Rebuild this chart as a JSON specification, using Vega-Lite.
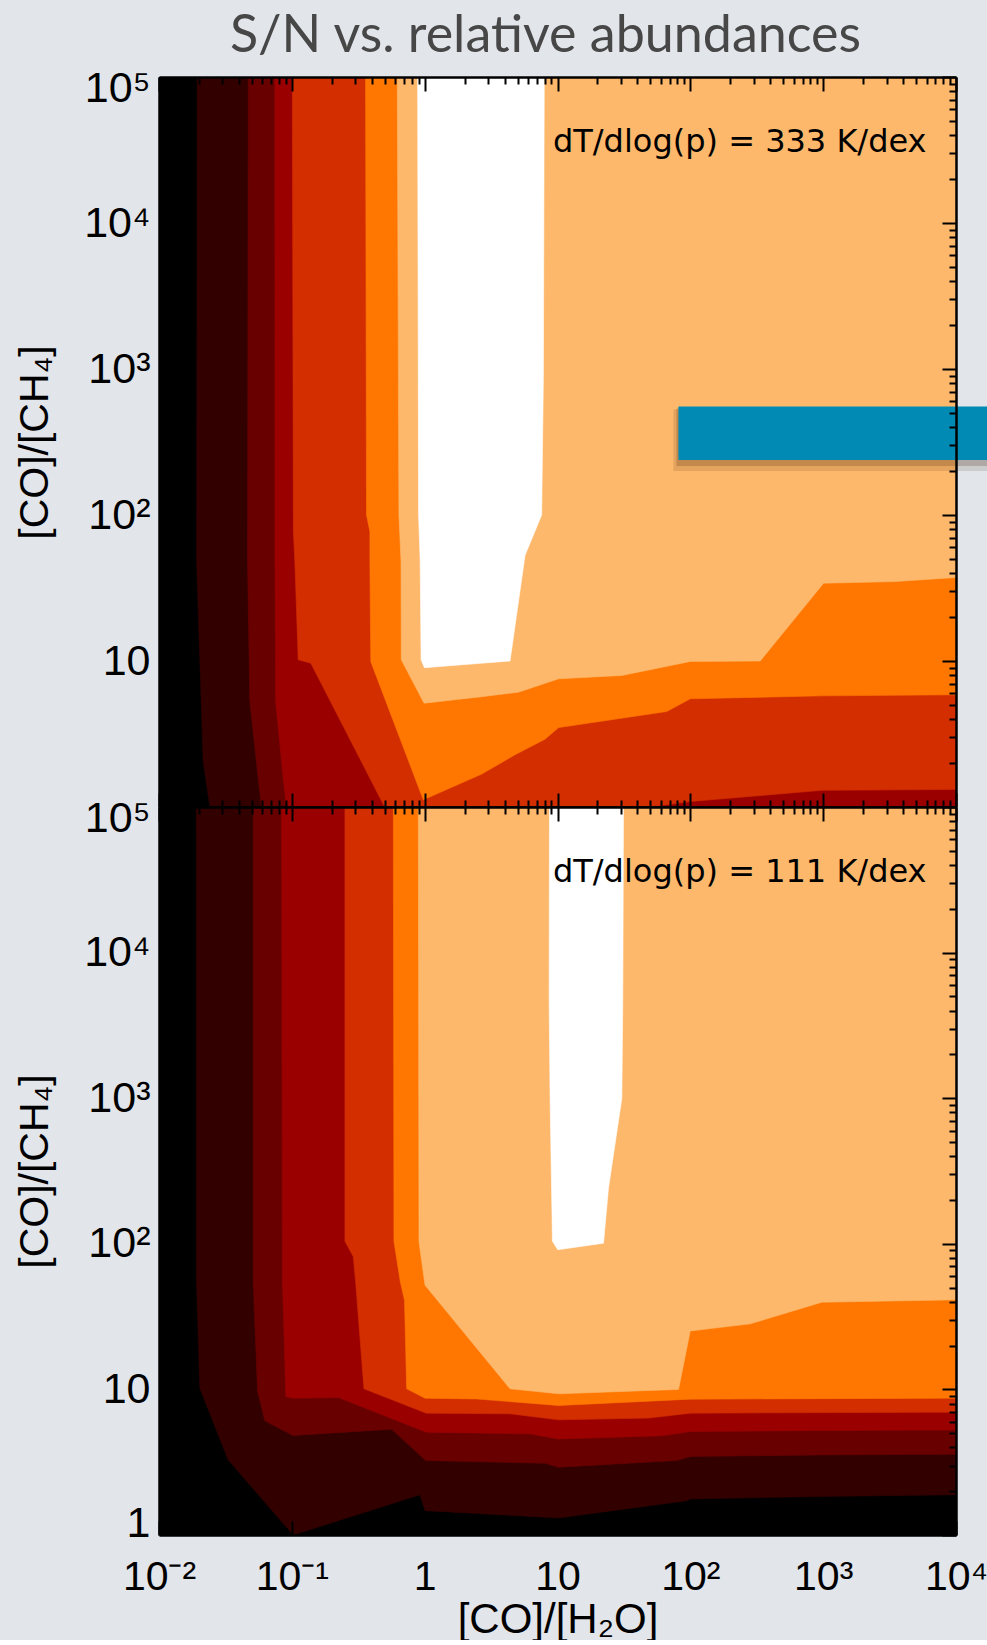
{
  "$schema": "https://vega.github.io/schema/vega-lite/v6.json",
  "background": "#e2e5ea",
  "padding": {"left": 14, "top": 10, "right": 0, "bottom": 0},
  "title": {
    "text": "S/N vs. relative abundances",
    "font": "Lato",
    "fontSize": 52,
    "fontWeight": "normal",
    "color": "#474747",
    "anchor": "middle",
    "frame": "group",
    "dx": -12,
    "offset": 4
  },
  "datasets": {
    "bands": [
      {"p":"t","lv":1,"i":1,"x":0.0194,"lo":100000},{"p":"t","lv":1,"i":2,"x":0.0192,"lo":48},{"p":"t","lv":1,"i":3,"x":0.0215,"lo":2.05},{"p":"t","lv":1,"i":4,"x":0.0242,"lo":1},{"p":"t","lv":1,"i":5,"x":10000,"lo":1},
      {"p":"t","lv":2,"i":1,"x":0.047,"lo":100000},{"p":"t","lv":2,"i":2,"x":0.0464,"lo":48},{"p":"t","lv":2,"i":3,"x":0.0483,"lo":5.3},{"p":"t","lv":2,"i":4,"x":0.0558,"lo":1.57},{"p":"t","lv":2,"i":5,"x":0.0591,"lo":1},{"p":"t","lv":2,"i":6,"x":10000,"lo":1},
      {"p":"t","lv":3,"i":1,"x":0.0745,"lo":100000},{"p":"t","lv":3,"i":2,"x":0.0747,"lo":48},{"p":"t","lv":3,"i":3,"x":0.0756,"lo":5.3},{"p":"t","lv":3,"i":4,"x":0.0861,"lo":1.57},{"p":"t","lv":3,"i":5,"x":0.0912,"lo":1},{"p":"t","lv":3,"i":6,"x":10000,"lo":1},
      {"p":"t","lv":4,"i":1,"x":0.1008,"lo":100000},{"p":"t","lv":4,"i":2,"x":0.1027,"lo":77},{"p":"t","lv":4,"i":3,"x":0.1054,"lo":48},{"p":"t","lv":4,"i":4,"x":0.1117,"lo":10.2},{"p":"t","lv":4,"i":5,"x":0.139,"lo":9.67},{"p":"t","lv":4,"i":6,"x":0.5,"lo":1},{"p":"t","lv":4,"i":7,"x":50,"lo":1},{"p":"t","lv":4,"i":8,"x":100,"lo":1.09},{"p":"t","lv":4,"i":9,"x":977,"lo":1.3},{"p":"t","lv":4,"i":10,"x":10000,"lo":1.32},
      {"p":"t","lv":5,"i":1,"x":0.359,"lo":100000},{"p":"t","lv":5,"i":2,"x":0.365,"lo":100},{"p":"t","lv":5,"i":3,"x":0.387,"lo":77},{"p":"t","lv":5,"i":4,"x":0.387,"lo":48},{"p":"t","lv":5,"i":5,"x":0.393,"lo":9.9},{"p":"t","lv":5,"i":6,"x":0.977,"lo":1.12},{"p":"t","lv":5,"i":7,"x":2.69,"lo":1.68},{"p":"t","lv":5,"i":8,"x":4.79,"lo":2.28},{"p":"t","lv":5,"i":9,"x":8.05,"lo":2.91},{"p":"t","lv":5,"i":10,"x":10.2,"lo":3.5},{"p":"t","lv":5,"i":11,"x":66.5,"lo":4.51},{"p":"t","lv":5,"i":12,"x":100,"lo":5.51},{"p":"t","lv":5,"i":13,"x":977,"lo":5.77},{"p":"t","lv":5,"i":14,"x":10000,"lo":5.87},
      {"p":"t","lv":6,"i":1,"x":0.622,"lo":100000},{"p":"t","lv":6,"i":2,"x":0.64,"lo":100},{"p":"t","lv":6,"i":3,"x":0.664,"lo":48},{"p":"t","lv":6,"i":4,"x":0.667,"lo":10.2},{"p":"t","lv":6,"i":5,"x":0.99,"lo":5.14},{"p":"t","lv":6,"i":6,"x":2.69,"lo":5.7},{"p":"t","lv":6,"i":7,"x":5.08,"lo":6.12},{"p":"t","lv":6,"i":8,"x":10.2,"lo":7.55},{"p":"t","lv":6,"i":9,"x":30.5,"lo":7.96},{"p":"t","lv":6,"i":10,"x":100,"lo":9.93},{"p":"t","lv":6,"i":11,"x":336,"lo":10},{"p":"t","lv":6,"i":12,"x":1007,"lo":34.1},{"p":"t","lv":6,"i":13,"x":3490,"lo":35},{"p":"t","lv":6,"i":14,"x":10000,"lo":37.3},
      {"p":"t","lv":7,"i":1,"x":0.885,"lo":100000},{"p":"t","lv":7,"i":2,"x":0.9,"lo":100},{"p":"t","lv":7,"i":3,"x":0.925,"lo":48},{"p":"t","lv":7,"i":4,"x":0.94,"lo":10.2},{"p":"t","lv":7,"i":5,"x":0.996,"lo":9},{"p":"t","lv":7,"i":6,"x":4.39,"lo":10},{"p":"t","lv":7,"i":7,"x":5.7,"lo":53},{"p":"t","lv":7,"i":8,"x":7.6,"lo":100},{"p":"t","lv":7,"i":9,"x":7.83,"lo":890},{"p":"t","lv":7,"i":10,"x":7.95,"lo":100000},
      {"p":"b","lv":1,"i":1,"x":0.0191,"lo":100000},{"p":"b","lv":1,"i":2,"x":0.01916,"lo":55},{"p":"b","lv":1,"i":3,"x":0.0203,"lo":10.2},{"p":"b","lv":1,"i":4,"x":0.0332,"lo":3.28},{"p":"b","lv":1,"i":5,"x":0.1024,"lo":1},{"p":"b","lv":1,"i":6,"x":0.922,"lo":1.89},{"p":"b","lv":1,"i":7,"x":1.006,"lo":1.47},{"p":"b","lv":1,"i":8,"x":10.2,"lo":1.31},{"p":"b","lv":1,"i":9,"x":94,"lo":1.72},{"p":"b","lv":1,"i":10,"x":100,"lo":1.77},{"p":"b","lv":1,"i":11,"x":977,"lo":1.84},{"p":"b","lv":1,"i":12,"x":10000,"lo":1.89},
      {"p":"b","lv":2,"i":1,"x":0.0512,"lo":100000},{"p":"b","lv":2,"i":2,"x":0.0512,"lo":55},{"p":"b","lv":2,"i":3,"x":0.0552,"lo":9.67},{"p":"b","lv":2,"i":4,"x":0.0627,"lo":6.08},{"p":"b","lv":2,"i":5,"x":0.102,"lo":4.82},{"p":"b","lv":2,"i":6,"x":0.564,"lo":5.33},{"p":"b","lv":2,"i":7,"x":1.02,"lo":3.25},{"p":"b","lv":2,"i":8,"x":8.05,"lo":3.11},{"p":"b","lv":2,"i":9,"x":10.2,"lo":2.92},{"p":"b","lv":2,"i":10,"x":79,"lo":3.25},{"p":"b","lv":2,"i":11,"x":100,"lo":3.46},{"p":"b","lv":2,"i":12,"x":977,"lo":3.55},{"p":"b","lv":2,"i":13,"x":10000,"lo":3.59},
      {"p":"b","lv":3,"i":1,"x":0.0837,"lo":100000},{"p":"b","lv":3,"i":2,"x":0.085,"lo":55},{"p":"b","lv":3,"i":3,"x":0.0902,"lo":8.94},{"p":"b","lv":3,"i":4,"x":0.102,"lo":8.71},{"p":"b","lv":3,"i":5,"x":0.224,"lo":8.8},{"p":"b","lv":3,"i":6,"x":1.03,"lo":5.08},{"p":"b","lv":3,"i":7,"x":6.2,"lo":4.95},{"p":"b","lv":3,"i":8,"x":10.2,"lo":4.57},{"p":"b","lv":3,"i":9,"x":61,"lo":4.8},{"p":"b","lv":3,"i":10,"x":100,"lo":5.14},{"p":"b","lv":3,"i":11,"x":977,"lo":5.22},{"p":"b","lv":3,"i":12,"x":10000,"lo":5.27},
      {"p":"b","lv":4,"i":1,"x":0.251,"lo":100000},{"p":"b","lv":4,"i":2,"x":0.251,"lo":104},{"p":"b","lv":4,"i":3,"x":0.29,"lo":81.8},{"p":"b","lv":4,"i":4,"x":0.302,"lo":55},{"p":"b","lv":4,"i":5,"x":0.349,"lo":10.1},{"p":"b","lv":4,"i":6,"x":1.03,"lo":6.87},{"p":"b","lv":4,"i":7,"x":4.39,"lo":6.8},{"p":"b","lv":4,"i":8,"x":10.2,"lo":6.18},{"p":"b","lv":4,"i":9,"x":48.4,"lo":6.35},{"p":"b","lv":4,"i":10,"x":100,"lo":6.87},{"p":"b","lv":4,"i":11,"x":10000,"lo":6.98},
      {"p":"b","lv":5,"i":1,"x":0.581,"lo":100000},{"p":"b","lv":5,"i":2,"x":0.587,"lo":104},{"p":"b","lv":5,"i":3,"x":0.655,"lo":55},{"p":"b","lv":5,"i":4,"x":0.705,"lo":41},{"p":"b","lv":5,"i":5,"x":0.732,"lo":10.1},{"p":"b","lv":5,"i":6,"x":1.006,"lo":8.7},{"p":"b","lv":5,"i":7,"x":2.46,"lo":8.6},{"p":"b","lv":5,"i":8,"x":10.2,"lo":7.75},{"p":"b","lv":5,"i":9,"x":100,"lo":8.57},{"p":"b","lv":5,"i":10,"x":10000,"lo":8.71},
      {"p":"b","lv":6,"i":1,"x":0.896,"lo":100000},{"p":"b","lv":6,"i":2,"x":0.906,"lo":104},{"p":"b","lv":6,"i":3,"x":1.006,"lo":52},{"p":"b","lv":6,"i":4,"x":4.39,"lo":10.1},{"p":"b","lv":6,"i":5,"x":10.2,"lo":9.33},{"p":"b","lv":6,"i":6,"x":81.5,"lo":10},{"p":"b","lv":6,"i":7,"x":99.8,"lo":25.2},{"p":"b","lv":6,"i":8,"x":283,"lo":28.2},{"p":"b","lv":6,"i":9,"x":977,"lo":39.7},{"p":"b","lv":6,"i":10,"x":10000,"lo":41.2},
      {"p":"b","lv":7,"i":1,"x":8.7,"lo":100000},{"p":"b","lv":7,"i":2,"x":8.65,"lo":4600},{"p":"b","lv":7,"i":3,"x":8.8,"lo":950},{"p":"b","lv":7,"i":4,"x":9.16,"lo":104},{"p":"b","lv":7,"i":5,"x":10.05,"lo":91},{"p":"b","lv":7,"i":6,"x":22.2,"lo":101},{"p":"b","lv":7,"i":7,"x":24.2,"lo":241},{"p":"b","lv":7,"i":8,"x":30.5,"lo":1000},{"p":"b","lv":7,"i":9,"x":31,"lo":4600},{"p":"b","lv":7,"i":10,"x":31.4,"lo":100000}
    ],
    "notes": [
      {"p": "t", "note": "dT/dlog(p) = 333 K/dex"},
      {"p": "b", "note": "dT/dlog(p) = 111 K/dex"}
    ]
  },
  "vconcat": [
    {
      "width": 797,
      "height": 730,
      "layer": [
        {"data": {"name": "bands"}, "transform": [{"filter": "datum.p == 't' && datum.lv == 1"}], "mark": {"type": "area", "fill": "#330000", "stroke": "#330000", "strokeWidth": 0.6, "clip": true}, "encoding": {"x": {"field": "x", "type": "quantitative", "scale": {"type": "log", "domain": [0.01, 10000]}, "axis": null}, "y": {"field": "lo", "type": "quantitative", "scale": {"type": "log", "domain": [1, 100000]}, "axis": null}, "y2": {"datum": 100000}, "order": {"value": null}}},
        {"data": {"name": "bands"}, "transform": [{"filter": "datum.p == 't' && datum.lv == 2"}], "mark": {"type": "area", "fill": "#680000", "stroke": "#680000", "strokeWidth": 0.6, "clip": true}, "encoding": {"x": {"field": "x", "type": "quantitative", "axis": null}, "y": {"field": "lo", "type": "quantitative", "axis": null}, "y2": {"datum": 100000}, "order": {"value": null}}},
        {"data": {"name": "bands"}, "transform": [{"filter": "datum.p == 't' && datum.lv == 3"}], "mark": {"type": "area", "fill": "#9b0000", "stroke": "#9b0000", "strokeWidth": 0.6, "clip": true}, "encoding": {"x": {"field": "x", "type": "quantitative", "axis": null}, "y": {"field": "lo", "type": "quantitative", "axis": null}, "y2": {"datum": 100000}, "order": {"value": null}}},
        {"data": {"name": "bands"}, "transform": [{"filter": "datum.p == 't' && datum.lv == 4"}], "mark": {"type": "area", "fill": "#d22e00", "stroke": "#d22e00", "strokeWidth": 0.6, "clip": true}, "encoding": {"x": {"field": "x", "type": "quantitative", "axis": null}, "y": {"field": "lo", "type": "quantitative", "axis": null}, "y2": {"datum": 100000}, "order": {"value": null}}},
        {"data": {"name": "bands"}, "transform": [{"filter": "datum.p == 't' && datum.lv == 5"}], "mark": {"type": "area", "fill": "#ff7700", "stroke": "#ff7700", "strokeWidth": 0.6, "clip": true}, "encoding": {"x": {"field": "x", "type": "quantitative", "axis": null}, "y": {"field": "lo", "type": "quantitative", "axis": null}, "y2": {"datum": 100000}, "order": {"value": null}}},
        {"data": {"name": "bands"}, "transform": [{"filter": "datum.p == 't' && datum.lv == 6"}], "mark": {"type": "area", "fill": "#fdb86c", "stroke": "#fdb86c", "strokeWidth": 0.6, "clip": true}, "encoding": {"x": {"field": "x", "type": "quantitative", "axis": null}, "y": {"field": "lo", "type": "quantitative", "axis": null}, "y2": {"datum": 100000}, "order": {"value": null}}},
        {"data": {"name": "bands"}, "transform": [{"filter": "datum.p == 't' && datum.lv == 7"}], "mark": {"type": "area", "fill": "#ffffff", "stroke": "#ffffff", "strokeWidth": 0.6, "clip": true}, "encoding": {"x": {"field": "x", "type": "quantitative", "axis": null}, "y": {"field": "lo", "type": "quantitative", "axis": null}, "y2": {"datum": 100000}, "order": {"value": null}}},
        {"data": {"name": "notes"}, "transform": [{"filter": "datum.p == 't'"}], "mark": {"type": "text", "align": "right", "baseline": "middle", "font": "DejaVu Sans", "fontSize": 32, "color": "#000000"}, "encoding": {"x": {"datum": 6000, "type": "quantitative", "axis": null}, "y": {"datum": 36000, "type": "quantitative", "axis": null}, "text": {"field": "note"}}},
        {"data": {"values": [{"shape": "marker"}]}, "mark": {"type": "rect", "color": "#3a1a00", "opacity": 0.12, "clip": false, "xOffset": -5, "x2Offset": -5, "yOffset": 3, "y2Offset": 11}, "encoding": {"x": {"datum": 81.3, "type": "quantitative", "axis": null}, "x2": {"datum": 30000}, "y": {"datum": 553, "type": "quantitative", "axis": null}, "y2": {"datum": 238}}},
        {"data": {"values": [{"shape": "marker"}]}, "mark": {"type": "rect", "color": "#3a1a00", "opacity": 0.2, "clip": false, "xOffset": -2, "x2Offset": -2, "yOffset": 2, "y2Offset": 6}, "encoding": {"x": {"datum": 81.3, "type": "quantitative", "axis": null}, "x2": {"datum": 30000}, "y": {"datum": 553, "type": "quantitative", "axis": null}, "y2": {"datum": 238}}},
        {"data": {"values": [{"shape": "marker"}]}, "mark": {"type": "rect", "color": "#018bb4", "clip": false}, "encoding": {"x": {"datum": 81.3, "type": "quantitative", "axis": null}, "x2": {"datum": 30000}, "y": {"datum": 553, "type": "quantitative", "axis": null}, "y2": {"datum": 238}}},
        {"data": {"values": [{}]}, "mark": {"type": "point", "opacity": 0},
         "encoding": {
           "x": {"datum": 1, "type": "quantitative", "axis": {"zindex": 2, "orient": "bottom", "values": [0.01, 10000], "labels": false, "ticks": false, "domain": true, "title": null}},
           "y": {"datum": 10, "type": "quantitative", "axis": {"zindex": 2, "orient": "left", "values": [10, 100, 1000, 10000, 100000], "ticks": false, "domain": true, "labelExpr": "['1','10','10²','10³','10⁴','10⁵'][round(log(datum.value)/LN10)]", "labelFont": "Liberation Sans", "labelFontSize": 43, "labelPadding": 9, "labelOverlap": false, "labelFlush": false, "labelBaseline": "middle", "labelOffset": {"condition": {"test": "datum.value >= 100000", "value": 11}, "value": 0}, "title": "[CO]/[CH₄]", "titleFont": "Liberation Sans", "titleFontSize": 41, "titlePadding": 27}}
         }},
        {"data": {"values": [{}]}, "mark": {"type": "point", "opacity": 0},
         "encoding": {
           "x": {"datum": 1, "type": "quantitative", "axis": {"zindex": 2, "orient": "bottom", "offset": -14, "values": [0.01, 0.1, 1, 10, 100, 1000, 10000], "labels": false, "ticks": true, "tickSize": 14, "domain": false, "title": null}},
           "y": {"datum": 10, "type": "quantitative", "axis": {"zindex": 2, "orient": "right", "values": [1, 100000], "labels": false, "ticks": false, "domain": true, "title": null}}
         }},
        {"data": {"values": [{}]}, "mark": {"type": "point", "opacity": 0},
         "encoding": {
           "x": {"datum": 1, "type": "quantitative", "axis": {"zindex": 2, "orient": "bottom", "offset": -7, "values": [0.02,0.03,0.04,0.05,0.06,0.07,0.08,0.09,0.2,0.3,0.4,0.5,0.6,0.7,0.8,0.9,2,3,4,5,6,7,8,9,20,30,40,50,60,70,80,90,200,300,400,500,600,700,800,900,2000,3000,4000,5000,6000,7000,8000,9000], "labels": false, "ticks": true, "tickSize": 7, "domain": false, "title": null}},
           "y": {"datum": 10, "type": "quantitative", "axis": {"zindex": 2, "orient": "right", "offset": -14, "values": [1, 10, 100, 1000, 10000, 100000], "labels": false, "ticks": true, "tickSize": 14, "domain": false, "title": null}}
         }},
        {"data": {"values": [{}]}, "mark": {"type": "point", "opacity": 0},
         "encoding": {
           "x": {"datum": 1, "type": "quantitative", "axis": {"zindex": 2, "orient": "top", "values": [0.01, 10000], "labels": false, "ticks": false, "domain": true, "title": null}},
           "y": {"datum": 10, "type": "quantitative", "axis": {"zindex": 2, "orient": "right", "offset": -7, "values": [2,3,4,5,6,7,8,9,20,30,40,50,60,70,80,90,200,300,400,500,600,700,800,900,2000,3000,4000,5000,6000,7000,8000,9000,20000,30000,40000,50000,60000,70000,80000,90000], "labels": false, "ticks": true, "tickSize": 7, "domain": false, "title": null}}
         }},
        {"data": {"values": [{}]}, "mark": {"type": "point", "opacity": 0},
         "encoding": {
           "x": {"datum": 1, "type": "quantitative", "axis": {"zindex": 2, "orient": "top", "offset": -14, "values": [0.01, 0.1, 1, 10, 100, 1000, 10000], "labels": false, "ticks": true, "tickSize": 14, "domain": false, "title": null}},
           "y": {"datum": 10, "type": "quantitative", "axis": null}
         }},
        {"data": {"values": [{}]}, "mark": {"type": "point", "opacity": 0},
         "encoding": {
           "x": {"datum": 1, "type": "quantitative", "axis": {"zindex": 2, "orient": "top", "offset": -7, "values": [0.02,0.03,0.04,0.05,0.06,0.07,0.08,0.09,0.2,0.3,0.4,0.5,0.6,0.7,0.8,0.9,2,3,4,5,6,7,8,9,20,30,40,50,60,70,80,90,200,300,400,500,600,700,800,900,2000,3000,4000,5000,6000,7000,8000,9000], "labels": false, "ticks": true, "tickSize": 7, "domain": false, "title": null}},
           "y": {"datum": 10, "type": "quantitative", "axis": null}
         }}
      ],
      "resolve": {"axis": {"x": "independent", "y": "independent"}}
    },
    {
      "width": 797,
      "height": 728,
      "layer": [
        {"data": {"name": "bands"}, "transform": [{"filter": "datum.p == 'b' && datum.lv == 1"}], "mark": {"type": "area", "fill": "#330000", "stroke": "#330000", "strokeWidth": 0.6, "clip": true}, "encoding": {"x": {"field": "x", "type": "quantitative", "scale": {"type": "log", "domain": [0.01, 10000]}, "axis": null}, "y": {"field": "lo", "type": "quantitative", "scale": {"type": "log", "domain": [1, 100000]}, "axis": null}, "y2": {"datum": 100000}, "order": {"value": null}}},
        {"data": {"name": "bands"}, "transform": [{"filter": "datum.p == 'b' && datum.lv == 2"}], "mark": {"type": "area", "fill": "#680000", "stroke": "#680000", "strokeWidth": 0.6, "clip": true}, "encoding": {"x": {"field": "x", "type": "quantitative", "axis": null}, "y": {"field": "lo", "type": "quantitative", "axis": null}, "y2": {"datum": 100000}, "order": {"value": null}}},
        {"data": {"name": "bands"}, "transform": [{"filter": "datum.p == 'b' && datum.lv == 3"}], "mark": {"type": "area", "fill": "#9b0000", "stroke": "#9b0000", "strokeWidth": 0.6, "clip": true}, "encoding": {"x": {"field": "x", "type": "quantitative", "axis": null}, "y": {"field": "lo", "type": "quantitative", "axis": null}, "y2": {"datum": 100000}, "order": {"value": null}}},
        {"data": {"name": "bands"}, "transform": [{"filter": "datum.p == 'b' && datum.lv == 4"}], "mark": {"type": "area", "fill": "#d22e00", "stroke": "#d22e00", "strokeWidth": 0.6, "clip": true}, "encoding": {"x": {"field": "x", "type": "quantitative", "axis": null}, "y": {"field": "lo", "type": "quantitative", "axis": null}, "y2": {"datum": 100000}, "order": {"value": null}}},
        {"data": {"name": "bands"}, "transform": [{"filter": "datum.p == 'b' && datum.lv == 5"}], "mark": {"type": "area", "fill": "#ff7700", "stroke": "#ff7700", "strokeWidth": 0.6, "clip": true}, "encoding": {"x": {"field": "x", "type": "quantitative", "axis": null}, "y": {"field": "lo", "type": "quantitative", "axis": null}, "y2": {"datum": 100000}, "order": {"value": null}}},
        {"data": {"name": "bands"}, "transform": [{"filter": "datum.p == 'b' && datum.lv == 6"}], "mark": {"type": "area", "fill": "#fdb86c", "stroke": "#fdb86c", "strokeWidth": 0.6, "clip": true}, "encoding": {"x": {"field": "x", "type": "quantitative", "axis": null}, "y": {"field": "lo", "type": "quantitative", "axis": null}, "y2": {"datum": 100000}, "order": {"value": null}}},
        {"data": {"name": "bands"}, "transform": [{"filter": "datum.p == 'b' && datum.lv == 7"}], "mark": {"type": "area", "fill": "#ffffff", "stroke": "#ffffff", "strokeWidth": 0.6, "clip": true}, "encoding": {"x": {"field": "x", "type": "quantitative", "axis": null}, "y": {"field": "lo", "type": "quantitative", "axis": null}, "y2": {"datum": 100000}, "order": {"value": null}}},
        {"data": {"name": "notes"}, "transform": [{"filter": "datum.p == 'b'"}], "mark": {"type": "text", "align": "right", "baseline": "middle", "font": "DejaVu Sans", "fontSize": 32, "color": "#000000"}, "encoding": {"x": {"datum": 6000, "type": "quantitative", "axis": null}, "y": {"datum": 36000, "type": "quantitative", "axis": null}, "text": {"field": "note"}}},
        {"data": {"values": [{}]}, "mark": {"type": "point", "opacity": 0},
         "encoding": {
           "x": {"datum": 1, "type": "quantitative", "axis": {"zindex": 2, "orient": "bottom", "values": [0.01, 0.1, 1, 10, 100, 1000, 10000], "ticks": false, "domain": true, "labelExpr": "['10⁻²','10⁻¹','1','10','10²','10³','10⁴'][round(log(datum.value)/LN10)+2]", "labelFont": "Liberation Sans", "labelFontSize": 41, "labelPadding": 22, "labelOverlap": false, "labelFlush": false, "title": "[CO]/[H₂O]", "titleFont": "Liberation Sans", "titleFontSize": 42, "titlePadding": 2}},
           "y": {"datum": 10, "type": "quantitative", "axis": {"zindex": 2, "orient": "left", "values": [1, 10, 100, 1000, 10000, 100000], "ticks": false, "domain": true, "labelExpr": "['1','10','10²','10³','10⁴','10⁵'][round(log(datum.value)/LN10)]", "labelFont": "Liberation Sans", "labelFontSize": 43, "labelPadding": 9, "labelOverlap": false, "labelFlush": false, "labelBaseline": "middle", "labelOffset": {"condition": [{"test": "datum.value >= 100000", "value": 11}, {"test": "datum.value <= 1", "value": -12}], "value": 0}, "title": "[CO]/[CH₄]", "titleFont": "Liberation Sans", "titleFontSize": 41, "titlePadding": 27}}
         }},
        {"data": {"values": [{}]}, "mark": {"type": "point", "opacity": 0},
         "encoding": {
           "x": {"datum": 1, "type": "quantitative", "axis": {"zindex": 2, "orient": "bottom", "offset": -14, "values": [0.01, 0.1, 1, 10, 100, 1000, 10000], "labels": false, "ticks": true, "tickSize": 14, "domain": false, "title": null}},
           "y": {"datum": 10, "type": "quantitative", "axis": {"zindex": 2, "orient": "right", "values": [1, 100000], "labels": false, "ticks": false, "domain": true, "title": null}}
         }},
        {"data": {"values": [{}]}, "mark": {"type": "point", "opacity": 0},
         "encoding": {
           "x": {"datum": 1, "type": "quantitative", "axis": {"zindex": 2, "orient": "bottom", "offset": -7, "values": [0.02,0.03,0.04,0.05,0.06,0.07,0.08,0.09,0.2,0.3,0.4,0.5,0.6,0.7,0.8,0.9,2,3,4,5,6,7,8,9,20,30,40,50,60,70,80,90,200,300,400,500,600,700,800,900,2000,3000,4000,5000,6000,7000,8000,9000], "labels": false, "ticks": true, "tickSize": 7, "domain": false, "title": null}},
           "y": {"datum": 10, "type": "quantitative", "axis": {"zindex": 2, "orient": "right", "offset": -14, "values": [1, 10, 100, 1000, 10000, 100000], "labels": false, "ticks": true, "tickSize": 14, "domain": false, "title": null}}
         }},
        {"data": {"values": [{}]}, "mark": {"type": "point", "opacity": 0},
         "encoding": {
           "x": {"datum": 1, "type": "quantitative", "axis": {"zindex": 2, "orient": "top", "values": [0.01, 10000], "labels": false, "ticks": false, "domain": true, "title": null}},
           "y": {"datum": 10, "type": "quantitative", "axis": {"zindex": 2, "orient": "right", "offset": -7, "values": [2,3,4,5,6,7,8,9,20,30,40,50,60,70,80,90,200,300,400,500,600,700,800,900,2000,3000,4000,5000,6000,7000,8000,9000,20000,30000,40000,50000,60000,70000,80000,90000], "labels": false, "ticks": true, "tickSize": 7, "domain": false, "title": null}}
         }},
        {"data": {"values": [{}]}, "mark": {"type": "point", "opacity": 0},
         "encoding": {
           "x": {"datum": 1, "type": "quantitative", "axis": {"zindex": 2, "orient": "top", "offset": -14, "values": [0.01, 0.1, 1, 10, 100, 1000, 10000], "labels": false, "ticks": true, "tickSize": 14, "domain": false, "title": null}},
           "y": {"datum": 10, "type": "quantitative", "axis": null}
         }},
        {"data": {"values": [{}]}, "mark": {"type": "point", "opacity": 0},
         "encoding": {
           "x": {"datum": 1, "type": "quantitative", "axis": {"zindex": 2, "orient": "top", "offset": -7, "values": [0.02,0.03,0.04,0.05,0.06,0.07,0.08,0.09,0.2,0.3,0.4,0.5,0.6,0.7,0.8,0.9,2,3,4,5,6,7,8,9,20,30,40,50,60,70,80,90,200,300,400,500,600,700,800,900,2000,3000,4000,5000,6000,7000,8000,9000], "labels": false, "ticks": true, "tickSize": 7, "domain": false, "title": null}},
           "y": {"datum": 10, "type": "quantitative", "axis": null}
         }}
      ],
      "resolve": {"axis": {"x": "independent", "y": "independent"}}
    }
  ],
  "spacing": 0,
  "bounds": "flush",
  "config": {
    "view": {"fill": "#000000", "stroke": null},
    "axis": {
      "grid": false,
      "tickColor": "#000000",
      "tickWidth": 2,
      "domainColor": "#000000",
      "domainWidth": 2.5,
      "labelColor": "#000000",
      "titleColor": "#000000",
      "titleFontWeight": "normal"
    }
  }
}
